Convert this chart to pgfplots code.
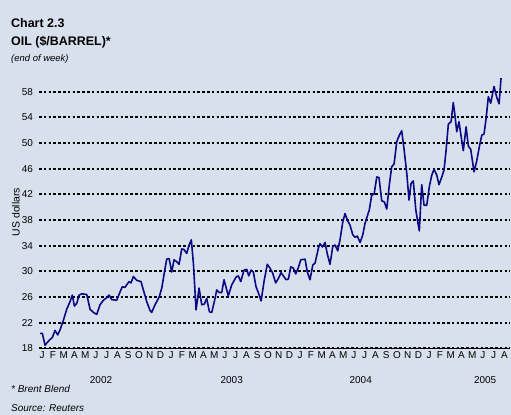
\documentclass[border=0pt]{standalone}
\usepackage{pgfplots}
\pgfplotsset{compat=1.18}
\usepackage{fontspec}
\setmainfont{Liberation Sans}
\definecolor{bg}{RGB}{216,224,237}
\definecolor{oil}{RGB}{10,10,130}
\begin{document}
\begin{tikzpicture}
\fill[bg] (0,0) rectangle (511bp,-415bp);
\useasboundingbox (0,0) rectangle (511bp,-415bp);
\node[anchor=base west,font=\fontsize{12.5}{14}\selectfont\bfseries,inner sep=0] at (11bp,-27bp) {Chart 2.3};
\node[anchor=base west,font=\fontsize{12.5}{14}\selectfont\bfseries,inner sep=0] at (11bp,-45.5bp) {OIL (\$/BARREL)*};
\node[anchor=base west,font=\fontsize{9.5}{11}\selectfont\itshape,inner sep=0] at (11bp,-61bp) {(end of week)};
\node[anchor=base west,font=\fontsize{10}{12}\selectfont\itshape,inner sep=0] at (11bp,-392.5bp) {* Brent Blend};
\node[anchor=base west,font=\fontsize{10}{12}\selectfont\itshape,inner sep=0] at (11bp,-411.5bp) {Source: Reuters};
\node[rotate=90,font=\fontsize{10.5}{12}\selectfont,inner sep=0] at (16bp,-212bp) {US dollars};
\begin{axis}[
  at={(39bp,-348.4bp)}, anchor=south west,
  scale only axis, width=470.85bp, height=282.5bp,
  xmin=0.2, xmax=44, ymin=18, ymax=62,
  axis x line=bottom, axis y line=left,
  y axis line style={draw=none},
  x axis line style={-, line width=1.1bp, black},
  ytick={18,22,...,58},
  ymajorgrids,
  major grid style={black, line width=2bp, dash pattern=on 2.5bp off 2.3bp},
  major tick length=0pt,
  xtick={0.5,1.5,...,43.5},
  xticklabels={J,F,M,A,M,J,J,A,S,O,N,D,J,F,M,A,M,J,J,A,S,O,N,D,J,F,M,A,M,J,J,A,S,O,N,D,J,F,M,A,M,J,J,A},
  tick label style={font=\fontsize{10}{12}\selectfont, text=black},
  yticklabel style={xshift=-2.5bp},
  /pgf/number format/assume math mode=true,
  clip=false,
]
\addplot[color=oil, line width=1.6bp, line join=round, no markers] coordinates {
(0.30,20.35) (0.51,20.35) (0.76,18.5) (1.01,19.0) (1.23,19.4) (1.44,19.7) (1.69,20.8) (1.94,20.1)
(2.16,20.9) (2.47,22.4) (2.78,24.1) (3.09,25.3) (3.30,26.3) (3.49,24.6) (3.71,25.0) (3.93,26.3)
(4.18,26.5) (4.64,26.4) (4.79,25.3) (4.95,24.1) (5.26,23.6) (5.57,23.3) (5.88,24.8) (6.19,25.5)
(6.50,25.9) (6.72,26.3) (6.97,25.6) (7.43,25.5) (7.74,26.8) (7.95,27.6) (8.20,27.5) (8.36,27.9)
(8.58,28.4) (8.76,28.2) (8.98,29.2) (9.29,28.6) (9.69,28.4) (9.91,27.1) (10.22,25.3) (10.53,23.9)
(10.69,23.6) (10.78,24.0) (11.00,24.8) (11.40,26.1) (11.62,27.4) (11.93,30.5) (12.08,31.9) (12.30,32.0)
(12.55,29.9) (12.76,31.8) (13.01,31.5) (13.23,31.1) (13.48,33.5) (13.69,33.4) (13.94,32.8) (14.16,34.1)
(14.37,34.9) (14.56,31.3) (14.81,24.0) (15.09,27.4) (15.34,24.8) (15.58,24.9) (15.80,25.8) (16.05,23.7)
(16.27,23.6) (16.58,25.8) (16.73,27.1) (16.98,26.7) (17.20,26.7) (17.41,28.7) (17.81,26.2) (18.13,27.9)
(18.53,29.1) (18.74,29.3) (18.97,28.4) (19.27,30.2) (19.53,30.3) (19.71,29.3) (19.93,30.2) (20.14,29.9)
(20.39,27.6) (20.60,26.7) (20.86,25.4) (21.16,28.7) (21.44,31.1) (21.69,30.5) (21.94,29.7) (22.22,28.2)
(22.47,28.9) (22.72,29.8) (22.93,29.3) (23.18,28.7) (23.40,28.8) (23.62,30.7) (23.86,30.5) (24.08,29.6)
(24.33,30.6) (24.55,31.8) (24.95,31.9) (25.16,29.9) (25.41,28.7) (25.67,31.0) (25.88,31.3) (26.19,33.6)
(26.34,34.3) (26.56,33.8) (26.81,34.5) (27.02,32.7) (27.27,31.1) (27.53,33.9) (27.74,34.1) (27.99,33.2)
(28.20,34.9) (28.46,37.7) (28.67,39.0) (28.88,38.0) (29.13,37.2) (29.39,35.7) (29.60,35.3) (29.81,35.5)
(30.07,34.5) (30.32,35.7) (30.53,37.5) (30.74,38.6) (30.93,39.6) (31.15,41.9) (31.37,42.0) (31.62,44.7)
(31.83,44.6) (32.08,41.0) (32.33,40.8) (32.55,39.7) (32.79,43.5) (33.01,46.3) (33.23,46.7) (33.48,50.2)
(33.72,51.2) (33.94,51.9) (34.16,49.0) (34.41,45.3) (34.62,41.1) (34.81,43.7) (35.02,44.1) (35.25,39.6)
(35.43,37.7) (35.58,36.3) (35.80,43.5) (36.02,40.3) (36.27,40.3) (36.51,43.2) (36.74,45.0) (36.95,45.9)
(37.20,45.0) (37.41,43.5) (37.67,44.7) (37.88,45.8) (38.07,48.9) (38.28,52.95) (38.53,53.3) (38.74,56.3)
(38.90,54.2) (39.06,51.75) (39.27,53.3) (39.46,51.1) (39.67,48.8) (39.93,52.5) (40.14,49.5) (40.36,49.0)
(40.67,45.5) (40.92,47.2) (41.16,49.4) (41.39,51.2) (41.60,51.4) (41.79,53.8) (42.00,57.2) (42.22,56.2)
(42.53,58.8) (42.78,57.1) (43.00,56.1) (43.18,60.1)
};
\node[font=\fontsize{10}{12}\selectfont, yshift=-31.6bp] at (axis cs:5.97,18) {2002};
\node[font=\fontsize{10}{12}\selectfont, yshift=-31.6bp] at (axis cs:18.13,18) {2003};
\node[font=\fontsize{10}{12}\selectfont, yshift=-31.6bp] at (axis cs:30.13,18) {2004};
\node[font=\fontsize{10}{12}\selectfont, yshift=-31.6bp] at (axis cs:41.7,18) {2005};
\end{axis}
\end{tikzpicture}
\end{document}
